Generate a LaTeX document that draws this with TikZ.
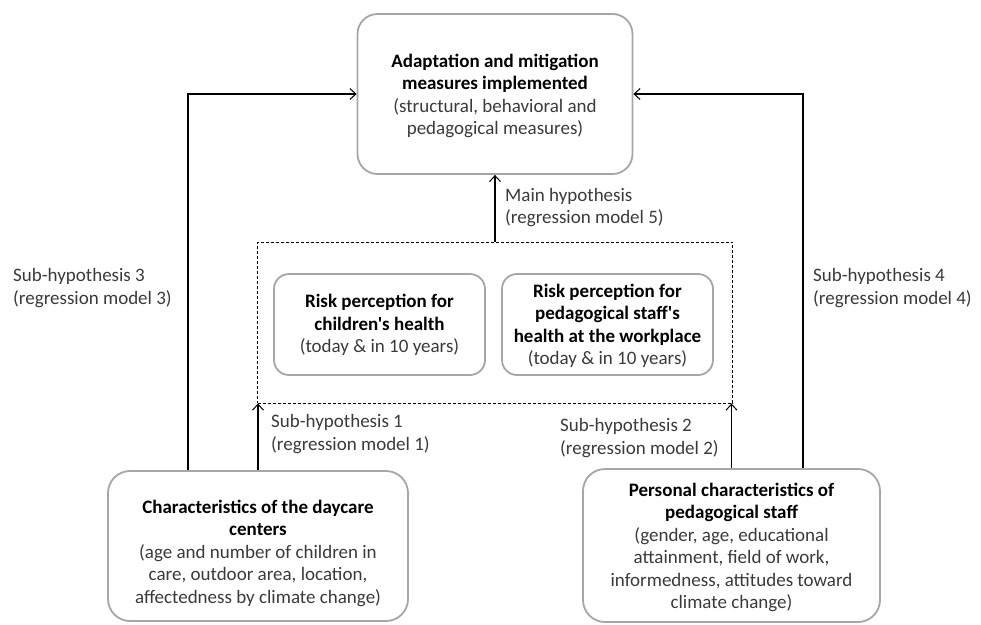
\documentclass[tikz,border=0pt]{standalone}
\usepackage{fontspec}
\setmainfont{Carlito}[Ligatures=TeXOff]
\usetikzlibrary{arrows.meta}
\definecolor{boxgray}{HTML}{A6A6A6}
\definecolor{txtgray}{HTML}{3A3A3A}
\begin{document}
\begin{tikzpicture}[x=1pt,y=-1pt,
  rbox/.style={draw=boxgray, line width=1.8pt, rounded corners=#1, inner sep=0pt},
  rbox/.default=20pt,
  txt/.style={align=center, inner sep=0pt, text=txtgray, font=\fontsize{19}{22.5}\selectfont},
  lbl/.style={align=left, anchor=west, inner sep=0pt, text=txtgray, font=\fontsize{19}{22.5}\selectfont},
  dbox/.style={draw=black, line width=0.9pt, dash pattern=on 3pt off 2pt, inner sep=0pt},
  arr/.style={draw=black, line width=1.2pt, -{Straight Barb[length=6pt,width=11pt,line width=1pt]}}
]
\useasboundingbox (0,0) rectangle (981,624);

% boxes
\node[rbox=20pt, minimum width=275pt, minimum height=160pt] (top) at (495,94) {};
\node[dbox, minimum width=475pt, minimum height=161pt] (dash) at (495,322.5) {};
\node[rbox=15pt, minimum width=211pt, minimum height=101pt] (rc) at (379.5,324.5) {};
\node[rbox=15pt, minimum width=211pt, minimum height=101pt] (rs) at (607.5,324.5) {};
\node[rbox=22pt, minimum width=300pt, minimum height=150pt] (bl) at (258,546) {};
\node[rbox=22pt, minimum width=297pt, minimum height=153pt] (br) at (731.5,545.5) {};

% texts
\node[txt] (toptxt) at (495,96) {{\bfseries\color{black}Adaptation and mitigation}\\{\bfseries\color{black}measures implemented}\\(structural, behavioral and\\pedagogical measures)};
\node[txt] (rctxt) at (379.5,325) {{\bfseries\color{black}Risk perception for}\\{\bfseries\color{black}children's health}\\(today \& in 10 years)};
\node[txt] (rstxt) at (607.5,326) {{\bfseries\color{black}Risk perception for}\\{\bfseries\color{black}pedagogical staff's}\\{\bfseries\color{black}health at the workplace}\\(today \& in 10 years)};
\node[txt] (bltxt) at (258,553) {{\bfseries\color{black}Characteristics of the daycare}\\{\bfseries\color{black}centers}\\(age and number of children in\\care, outdoor area, location,\\affectedness by climate change)};
\node[txt] (brtxt) at (731.5,547.5) {{\bfseries\color{black}Personal characteristics of}\\{\bfseries\color{black}pedagogical staff}\\(gender, age, educational\\attainment, field of work,\\informedness, attitudes toward\\climate change)};

% labels
\node[lbl] (lmain) at (505,207.5) {Main hypothesis\\(regression model 5)};
\node[lbl] (l1) at (271,434) {Sub-hypothesis 1\\(regression model 1)};
\node[lbl] (l2) at (560,438) {Sub-hypothesis 2\\(regression model 2)};
\node[lbl] (l3) at (13,288) {Sub-hypothesis 3\\(regression model 3)};
\node[lbl] (l4) at (813,288) {Sub-hypothesis 4\\(regression model 4)};

% connectors
\coordinate (c3) at ([xshift=-70pt]bl.north);
\coordinate (c4) at ([xshift=71.5pt]br.north);
\draw[arr] (dash.north) -- (top.south);
\draw[arr] (bl.north) -- (bl.north |- dash.south);
\draw[arr] (br.north) -- (br.north |- dash.south);
\draw[arr] (c3) |- (top.west);
\draw[arr] (c4) |- (top.east);
\end{tikzpicture}
\end{document}
